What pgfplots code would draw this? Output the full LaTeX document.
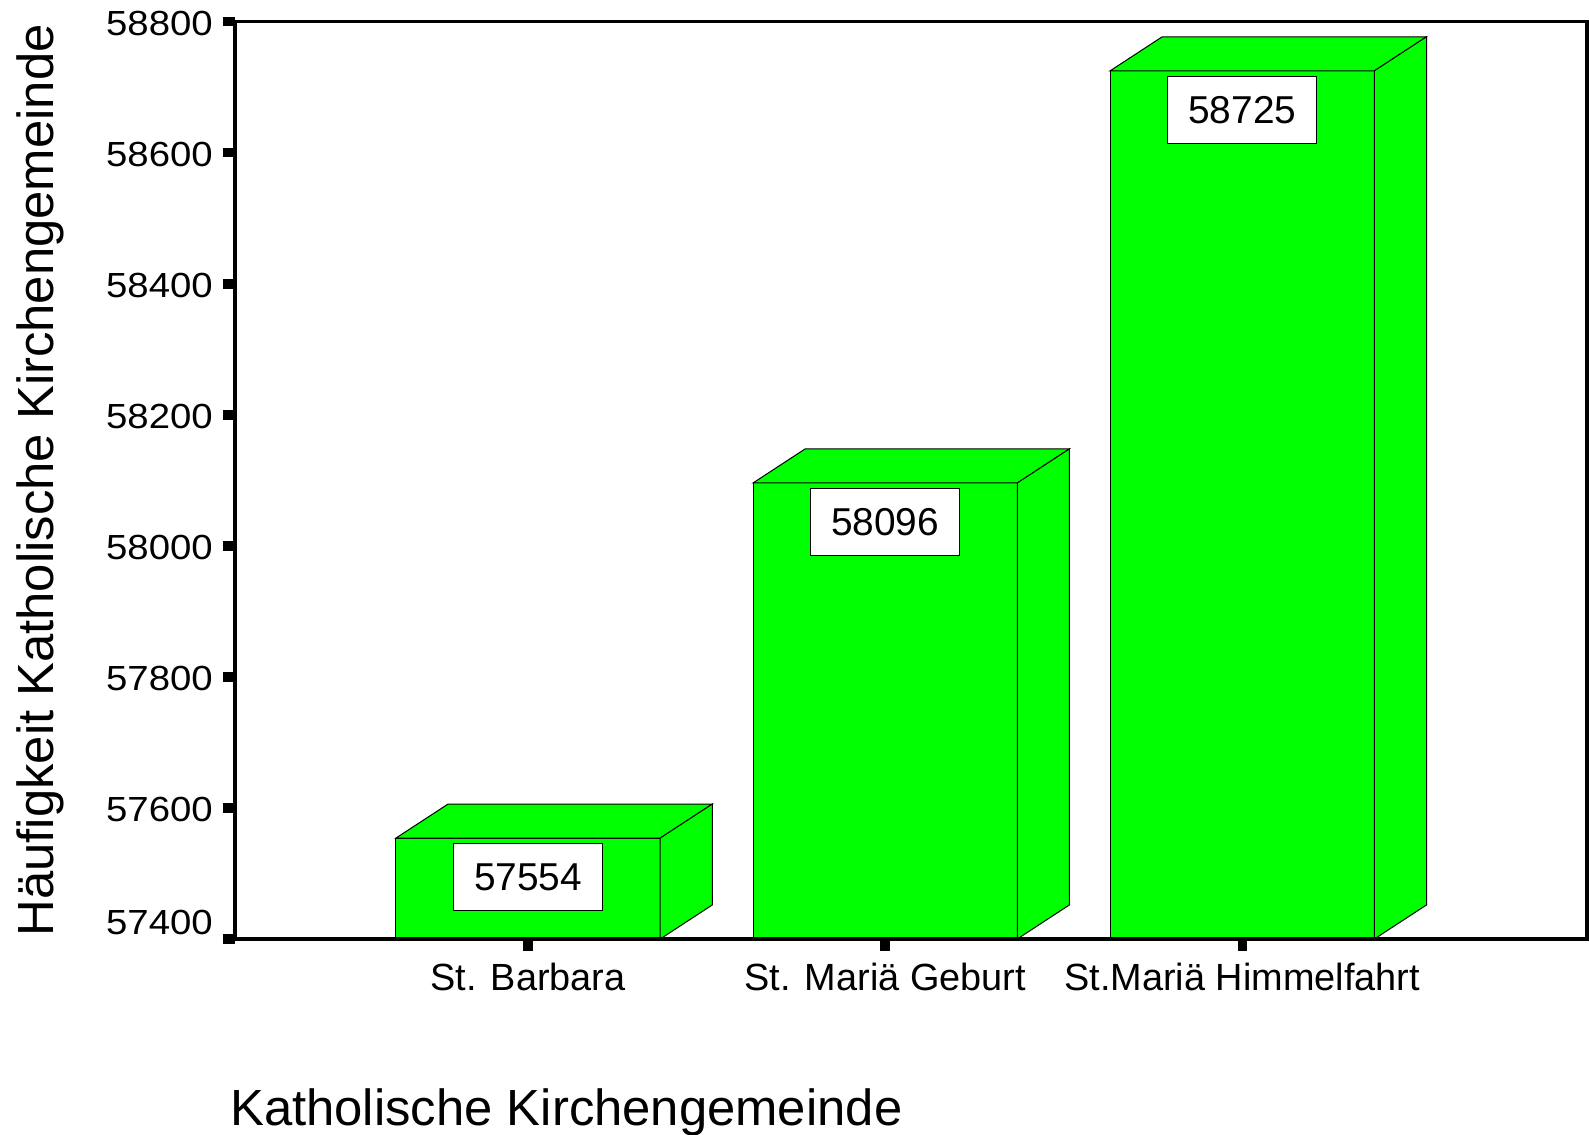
\documentclass[border=0pt]{standalone}
\usepackage{fontspec}
\setmainfont{Liberation Sans}
\newfontfamily\tickfont{Liberation Sans}[FakeStretch=1.1]
\usepackage{pgfplots}
\pgfplotsset{compat=1.18}
\begin{document}
\begin{tikzpicture}
\path[use as bounding box] (0,0) rectangle (1589bp,1135bp);
\begin{axis}[
  at={(235bp,196bp)}, anchor=south west,
  scale only axis, width=1352bp, height=917.3bp,
  xmin=0.1793, xmax=3.9655, ymin=57400, ymax=58800,
  axis line style={line width=3.2bp, black},
  tick align=outside, tick pos=left,
  major tick length=12bp,
  tick style={line width=9.5bp, black},
  xtick={1,2,3},
  xticklabels={St. Barbara, St. Mariä Geburt, St.Mariä Himmelfahrt},
  xticklabel style={font=\fontsize{38}{44}\selectfont, inner sep=0pt, yshift=-12bp},
  ytick={57600,57800,58000,58200,58400,58600,58800},
  extra y ticks={57400},
  extra y tick style={yticklabel style={yshift=18.5bp}},
  scaled y ticks=false,
  /pgf/number format/assume math mode=true,
  /pgf/number format/set thousands separator={},
  /pgf/number format/fixed,
  yticklabel style={font=\tickfont\fontsize{35}{40}\selectfont, inner sep=0pt, xshift=-10bp, yshift=-1.5bp,
     /pgf/number format/fixed, /pgf/number format/set thousands separator={}},
  xlabel={Katholische Kirchengemeinde},
  ylabel={Häufigkeit Katholische Kirchengemeinde},
  xlabel style={at={(axis description cs:-0.0037,-0.2028)}, anchor=base west, inner sep=0pt, font=\fontsize{51}{60}\selectfont},
  ylabel style={at={(axis description cs:-0.1346,0.5)}, anchor=base, inner sep=0pt, font=\fontsize{51}{60}\selectfont},
  axis on top,
  clip=true,
]
% front faces with value labels
\addplot[ybar, bar width=0.74, fill=green, draw=black, line width=1bp,
  point meta=explicit symbolic,
  nodes near coords,
  every node near coord/.append style={anchor=north, yshift=-5bp, draw=black, line width=1bp, fill=white,
     minimum width=149bp, minimum height=67bp, inner sep=0pt, font=\fontsize{39}{44}\selectfont}]
  coordinates {(1,57554) [57554] (2,58096) [58096] (3,58725) [58725]};
% top faces
\addplot[fill=green, draw=black, line width=1bp] coordinates {(0.63,57554) (0.776,57606) (1.516,57606) (1.37,57554)} -- cycle;
\addplot[fill=green, draw=black, line width=1bp] coordinates {(1.63,58096) (1.776,58148) (2.516,58148) (2.37,58096)} -- cycle;
\addplot[fill=green, draw=black, line width=1bp] coordinates {(2.63,58725) (2.776,58777) (3.516,58777) (3.37,58725)} -- cycle;
% side faces
\addplot[fill=green, draw=black, line width=1bp] coordinates {(1.37,57554) (1.516,57606) (1.516,57452) (1.37,57400)} -- cycle;
\addplot[fill=green, draw=black, line width=1bp] coordinates {(2.37,58096) (2.516,58148) (2.516,57452) (2.37,57400)} -- cycle;
\addplot[fill=green, draw=black, line width=1bp] coordinates {(3.37,58725) (3.516,58777) (3.516,57452) (3.37,57400)} -- cycle;
\end{axis}
\end{tikzpicture}
\end{document}
